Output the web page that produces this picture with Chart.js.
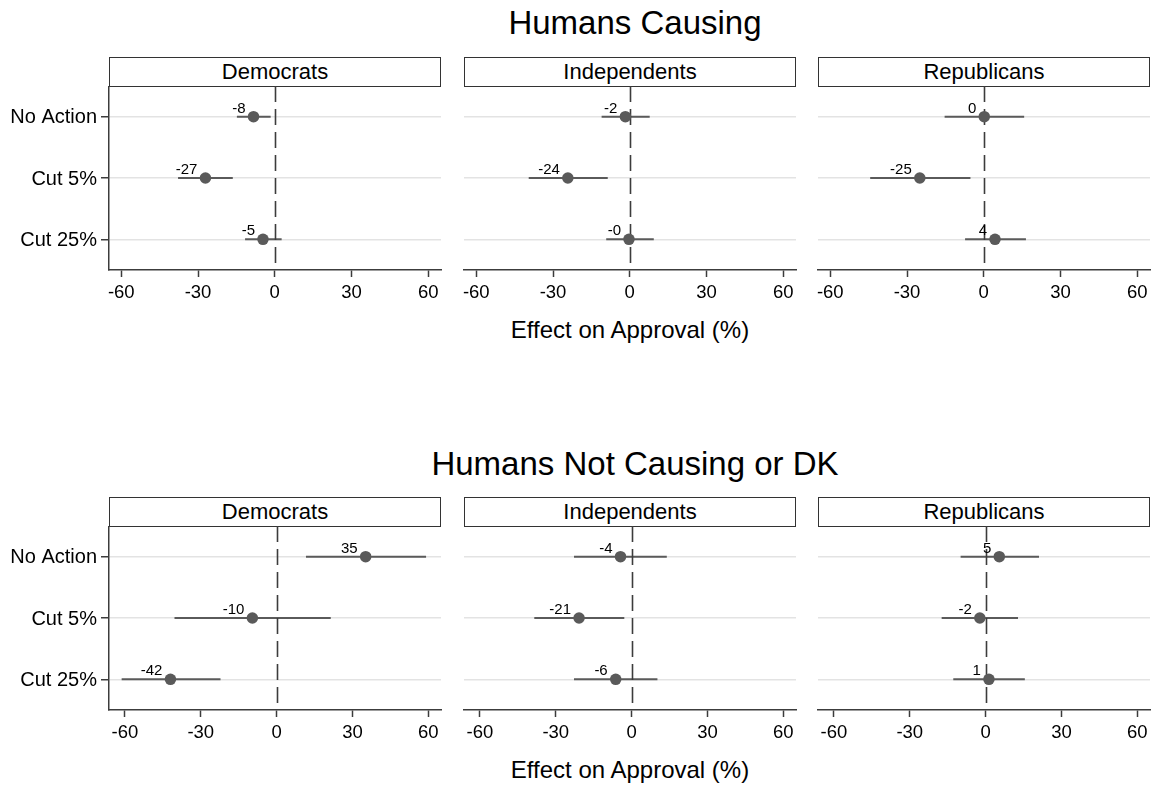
<!DOCTYPE html>
<html>
<head>
<meta charset="utf-8">
<title>Effect on Approval</title>
<script src="https://cdn.jsdelivr.net/npm/chart.js@4.4.1/dist/chart.umd.min.js"></script>
<style>
  html, body { margin: 0; padding: 0; background: #fff; }
  #wrap { position: relative; width: 1158px; height: 786px; overflow: hidden;
          font-family: "Liberation Sans", Arial, Helvetica, sans-serif; color: #000; }
  .txt { position: absolute; white-space: nowrap; line-height: 1; text-align: center; }
  .strip { position: absolute; box-sizing: border-box; border: 1px solid #333; background: #fff;
           display: flex; align-items: center; justify-content: center; font-size: 22px; line-height: 1; }
  canvas { position: absolute; }
</style>
</head>
<body>
<div id="wrap"></div>
<script>
// ---- data ----------------------------------------------------------------
const groups = ['Humans Causing', 'Humans Not Causing or DK'];
const parties = ['Democrats', 'Independents', 'Republicans'];
const categories = ['No Action', 'Cut 5%', 'Cut 25%'];
const xTicks = [-60, -30, 0, 30, 60];
const axisTitle = 'Effect on Approval (%)';

// Humans Causing: point estimates and 95% interval bounds
const causingDemEst = [-8.3, -27.1, -4.6];
const causingDemLo  = [-14.8, -37.8, -11.6];
const causingDemHi  = [-1.6, -16.4, 2.7];

const causingIndEst = [-1.7, -24.2, -0.3];
const causingIndLo  = [-11.0, -39.5, -9.2];
const causingIndHi  = [7.8, -8.6, 9.4];

const causingRepEst = [0.2, -25.0, 4.4];
const causingRepLo  = [-15.3, -44.4, -7.3];
const causingRepHi  = [15.8, -5.2, 16.5];

// Humans Not Causing or DK
const notDemEst = [35.2, -9.6, -42.0];
const notDemLo  = [11.6, -40.4, -61.3];
const notDemHi  = [59.1, 21.4, -22.2];

const notIndEst = [-4.4, -20.8, -6.3];
const notIndLo  = [-22.8, -38.5, -22.8];
const notIndHi  = [13.9, -2.9, 10.2];

const notRepEst = [5.4, -2.3, 1.3];
const notRepLo  = [-9.9, -17.4, -12.8];
const notRepHi  = [21.1, 12.8, 15.5];

const panels = [
  [ {est: causingDemEst, lo: causingDemLo, hi: causingDemHi},
    {est: causingIndEst, lo: causingIndLo, hi: causingIndHi},
    {est: causingRepEst, lo: causingRepLo, hi: causingRepHi} ],
  [ {est: notDemEst, lo: notDemLo, hi: notDemHi},
    {est: notIndEst, lo: notIndLo, hi: notIndHi},
    {est: notRepEst, lo: notRepLo, hi: notRepHi} ]
];

// ---- layout ----------------------------------------------------------------
const FONT = '"Liberation Sans", Arial, Helvetica, sans-serif';
const PLOT_LEFT = [109, 464, 818];
const PLOT_TOP = [86, 526];
const PLOT_W = 332, PLOT_H = 184;
const X_RANGE = [[-64.8, 65.0], [-66.3, 65.0]];
const Y_AXIS_W = 109;     // room for category labels in the first column
const X_AXIS_H = 44;      // room for tick marks and tick labels
const SIDE_PAD = 12;

const INK = '#000';
const AXIS = '#3c3c3c';
const MARK = '#5a5a5a';
const GRID = '#e3e3e3';

Chart.defaults.font.family = FONT;
Chart.defaults.color = INK;

const wrap = document.getElementById('wrap');

function addText(str, cx, capCenterY, size) {
  const d = document.createElement('div');
  d.className = 'txt';
  d.textContent = str;
  d.style.fontSize = size + 'px';
  d.style.width = '800px';
  d.style.left = (cx - 400) + 'px';
  d.style.top = (capCenterY - 0.49 * size) + 'px';
  wrap.appendChild(d);
}

function fmt(v) {
  const r = Math.round(v);
  return (v < 0 ? '-' : '') + Math.abs(r);
}

// interval bars, zero reference line and value labels
function intervalPlugin(panel) {
  return {
    id: 'intervals',
    beforeDatasetsDraw(chart) {
      const {ctx, chartArea, scales: {x, y}} = chart;
      ctx.save();
      ctx.strokeStyle = MARK;
      ctx.lineWidth = 2;
      panel.lo.forEach((lo, i) => {
        const py = y.getPixelForValue(i);
        ctx.beginPath();
        ctx.moveTo(x.getPixelForValue(lo), py);
        ctx.lineTo(x.getPixelForValue(panel.hi[i]), py);
        ctx.stroke();
      });
      const zx = Math.round(x.getPixelForValue(0)) + 0.5;
      ctx.strokeStyle = AXIS;
      ctx.lineWidth = 1.6;
      ctx.setLineDash([16, 7]);
      ctx.beginPath();
      ctx.moveTo(zx, chartArea.top);
      ctx.lineTo(zx, chartArea.bottom);
      ctx.stroke();
      ctx.restore();
    },
    afterDatasetsDraw(chart) {
      const {ctx, scales: {x, y}} = chart;
      ctx.save();
      ctx.font = '15px ' + FONT;
      ctx.fillStyle = INK;
      ctx.textAlign = 'right';
      ctx.textBaseline = 'alphabetic';
      panel.est.forEach((v, i) => {
        ctx.fillText(fmt(v), x.getPixelForValue(v) - 8, y.getPixelForValue(i) - 4);
      });
      ctx.restore();
    }
  };
}

groups.forEach((g, r) => {
  const top = PLOT_TOP[r];
  addText(g, 635, r === 0 ? 22 : 463, 33);
  addText(axisTitle, 630, top + PLOT_H + 60, 24);

  parties.forEach((p, c) => {
    const left = PLOT_LEFT[c];
    const first = c === 0;

    const strip = document.createElement('div');
    strip.className = 'strip';
    strip.textContent = p;
    strip.style.left = left + 'px';
    strip.style.top = (top - 29) + 'px';
    strip.style.width = PLOT_W + 'px';
    strip.style.height = '30px';
    wrap.appendChild(strip);

    const padL = first ? 0 : SIDE_PAD;
    const yW = first ? Y_AXIS_W : 0;
    const cv = document.createElement('canvas');
    const w = padL + yW + PLOT_W + SIDE_PAD;
    const h = PLOT_H + X_AXIS_H;
    cv.width = w; cv.height = h;
    cv.style.width = w + 'px'; cv.style.height = h + 'px';
    cv.style.left = (left - yW - padL) + 'px';
    cv.style.top = top + 'px';
    wrap.appendChild(cv);

    const panel = panels[r][c];
    new Chart(cv, {
      type: 'scatter',
      data: {
        datasets: [{
          data: panel.est.map((v, i) => ({x: v, y: categories[i]})),
          pointRadius: 5.75,
          pointHoverRadius: 5.75,
          pointBackgroundColor: MARK,
          pointBorderWidth: 0
        }]
      },
      options: {
        responsive: false,
        animation: false,
        events: [],
        layout: { autoPadding: false, padding: { left: padL, right: SIDE_PAD, top: 0, bottom: 0 } },
        plugins: { legend: { display: false }, tooltip: { enabled: false } },
        scales: {
          x: {
            type: 'linear',
            min: X_RANGE[r][0],
            max: X_RANGE[r][1],
            afterBuildTicks: s => { s.ticks = xTicks.map(v => ({value: v})); },
            afterFit: s => { s.height = X_AXIS_H; s.paddingLeft = 0; s.paddingRight = 0; },
            grid: { drawOnChartArea: false, drawTicks: true, tickLength: 7, tickColor: AXIS, tickWidth: 1.5 },
            border: { display: true, color: AXIS, width: 1.5 },
            ticks: { font: { size: 18.5 }, color: INK, padding: 5, maxRotation: 0, autoSkip: false }
          },
          y: {
            type: 'category',
            labels: categories,
            offset: true,
            afterFit: s => { s.width = yW; s.paddingTop = 0; s.paddingBottom = 0; },
            grid: { offset: false, color: GRID, lineWidth: 1.5, drawTicks: first, tickLength: 8, tickColor: AXIS, tickWidth: 1.5 },
            border: { display: first, color: AXIS, width: 1.5 },
            ticks: { display: first, font: { size: 20 }, color: INK, padding: 4, labelOffset: 1 }
          }
        }
      },
      plugins: [intervalPlugin(panel)]
    });
  });
});
</script>
</body>
</html>
